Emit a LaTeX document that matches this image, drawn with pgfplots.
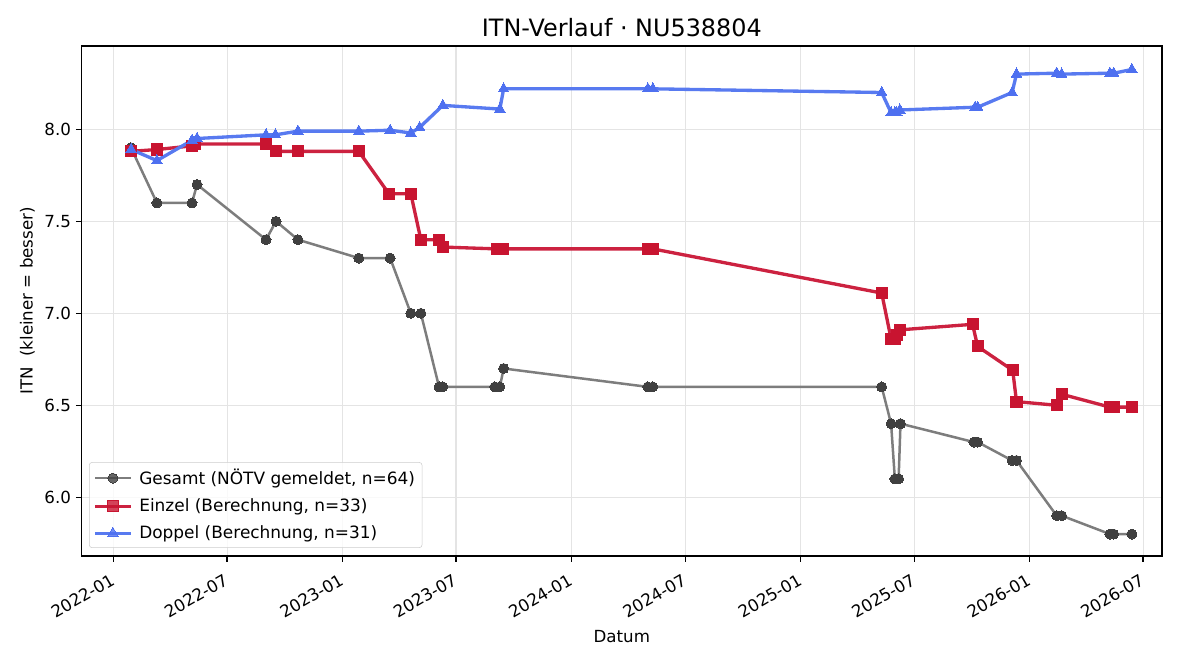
\documentclass[border=0pt]{standalone}
\usepackage{fontspec}
\setmainfont{DejaVu Sans}
\usepackage{pgfplots}
\pgfplotsset{compat=1.18}
\definecolor{gline}{RGB}{125,125,125}
\definecolor{gmark}{RGB}{64,64,64}
\definecolor{rline}{RGB}{204,34,64}
\definecolor{rmark}{RGB}{200,20,48}
\definecolor{bline}{RGB}{88,122,240}
\definecolor{bmark}{RGB}{78,112,240}
\definecolor{gridc}{RGB}{228,228,228}
\begin{document}
\begin{tikzpicture}
\path[use as bounding box] (0,0) rectangle (864pt,475.2pt);
\begin{axis}[
  at={(58.8pt,74.9pt)}, anchor=south west,
  width=777.8pt, height=367.2pt, scale only axis,
  xmin=-51, xmax=1672, ymin=5.681, ymax=8.453,
  xtick={0,181,365,546,730,912,1096,1277,1461,1642},
  xticklabels={2022-01,2022-07,2023-01,2023-07,2024-01,2024-07,2025-01,2025-07,2026-01,2026-07},
  ytick={6,6.5,7,7.5,8},
  yticklabel style={/pgf/number format/.cd, fixed, fixed zerofill, precision=1},
  /pgf/number format/assume math mode=true,
  tick label style={font=\fontsize{12}{14}\selectfont},
  xticklabel style={rotate=30, anchor=north east, xshift=-3pt, yshift=-2pt},
  tick align=outside, tickwidth=4.2pt,
  tick style={black, line width=0.96pt},
  xtick pos=bottom, ytick pos=left,
  axis line style={line width=0.96pt},
  grid=major, major grid style={gridc, line width=0.9pt},
  title={ITN-Verlauf · NU538804},
  title style={font=\fontsize{17.2}{20}\selectfont, yshift=-3pt},
  xlabel={Datum},
  ylabel={ITN\ \ (kleiner = besser)},
  label style={font=\fontsize{12}{14}\selectfont},
  legend style={at={(0.0068,0.0157)}, anchor=south west, draw=black!20, rounded corners=2pt, fill=white, fill opacity=0.8, text opacity=1, font=\fontsize{12.2}{14}\selectfont, row sep=4.6pt, column sep=3pt, inner sep=3pt},
  legend cell align=left,
  legend image code/.code={\draw[mark repeat=2, mark phase=2] plot coordinates {(0cm,0cm) (0.45cm,0cm) (0.9cm,0cm)};},
]
\addplot[gline, line width=1.8pt, mark=*, mark size=3.6pt, mark options={fill=gmark, draw=gmark, line width=0pt}] coordinates {
(27.6,7.9) (69,7.6) (125,7.6) (133,7.7) (243,7.4) (259,7.5) (294,7.4) (391,7.3) (441,7.3) (474,7.0) (490,7.0) (519,6.6) (525,6.6) (608,6.6) (616,6.6) (622,6.7) (852,6.6) (860,6.6) (1225,6.6) (1240,6.4) (1246,6.1) (1252,6.1) (1255,6.4) (1372,6.3) (1378,6.3) (1433,6.2) (1440,6.2) (1504,5.9) (1512,5.9) (1589,5.8) (1595,5.8) (1624,5.8)
};
\addlegendentry{Gesamt (NÖTV gemeldet, n=64)}
\addplot[rline, line width=2.4pt, mark=square*, mark size=4pt, mark options={fill=rmark, draw=rmark, line width=0pt}] coordinates {
(27,7.88) (69,7.89) (125,7.91) (130,7.92) (243,7.92) (259,7.88) (294,7.88) (391,7.88) (439,7.65) (474,7.65) (490,7.40) (519,7.40) (525,7.36) (611,7.35) (621,7.35) (852,7.35) (860,7.35) (1225,7.11) (1240,6.86) (1246,6.86) (1249,6.88) (1254,6.91) (1370,6.94) (1378,6.82) (1434,6.69) (1440,6.52) (1504,6.50) (1512,6.56) (1589,6.49) (1595,6.49) (1624,6.49)
};
\addlegendentry{Einzel (Berechnung, n=33)}
\addplot[bline, line width=2.4pt, mark=triangle*, mark size=4.4pt, mark options={fill=bmark, draw=bmark, line width=0pt}] coordinates {
(28,7.89) (69,7.83) (125,7.94) (133,7.95) (243,7.97) (258,7.97) (294,7.99) (391,7.99) (441,7.995) (474,7.98) (488,8.01) (525,8.13) (616,8.11) (622,8.22) (852,8.22) (860,8.22) (1225,8.20) (1240,8.09) (1246,8.09) (1249,8.09) (1254,8.105) (1374,8.12) (1378,8.12) (1433,8.20) (1440,8.30) (1504,8.305) (1512,8.30) (1589,8.305) (1595,8.305) (1624,8.325)
};
\addlegendentry{Doppel (Berechnung, n=31)}
\end{axis}
\end{tikzpicture}
\end{document}
